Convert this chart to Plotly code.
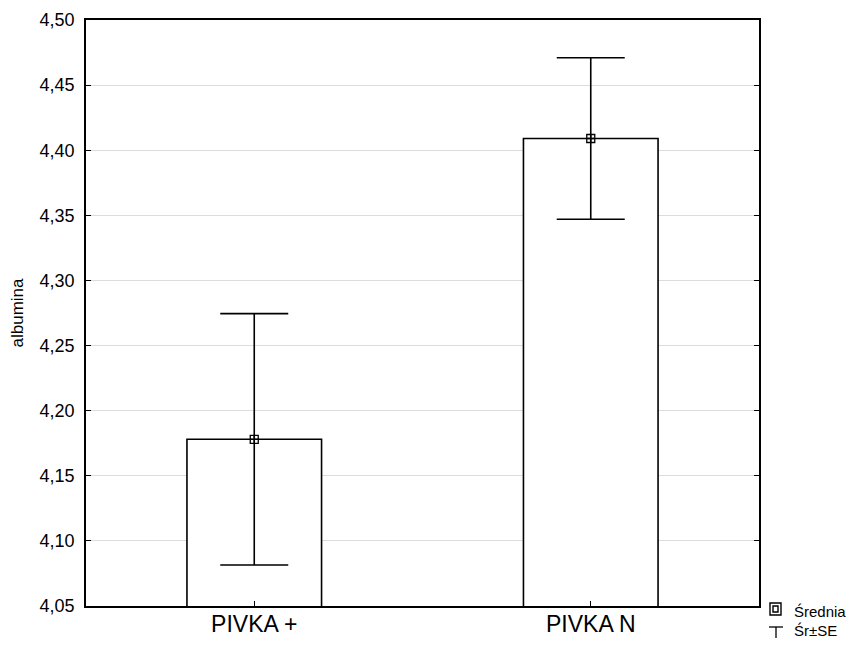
import plotly.graph_objects as go

categories = ["PIVKA +", "PIVKA N"]
means = [4.178, 4.409]
se = [0.0965, 0.062]
y_ticks = [4.05, 4.10, 4.15, 4.20, 4.25, 4.30, 4.35, 4.40, 4.45, 4.50]

OFF = 8  # default page body margin
PW, PH = 859, 647
W, H = PW - 2 * OFF, PH - 2 * OFF
L, R, T, B = 86, 759, 20, 606  # plot area in page pixels

x_pos = list(range(len(categories)))

fig = go.Figure()
fig.add_trace(go.Bar(
    x=x_pos, y=means, width=0.4,
    marker=dict(color="white", line=dict(color="black", width=1.6)),
    showlegend=False, hoverinfo="skip",
))
fig.add_trace(go.Scatter(
    x=x_pos, y=means, mode="markers",
    marker=dict(symbol="square-cross-open", size=8, color="black", line=dict(width=1.3)),
    error_y=dict(type="data", array=se, visible=True, color="black", thickness=1.6, width=34),
    showlegend=False,
))

def px(x):
    return (x - L) / (R - L)

def py(y):
    return (B - y) / (B - T)

shapes = [
    dict(type="rect", xref="paper", yref="paper", x0=px(770), x1=px(781), y0=py(615), y1=py(603),
         line=dict(color="black", width=1.4)),
    dict(type="rect", xref="paper", yref="paper", x0=px(773), x1=px(778), y0=py(612), y1=py(606),
         line=dict(color="black", width=1.4)),
    dict(type="line", xref="paper", yref="paper", x0=px(769), x1=px(783), y0=py(627), y1=py(627),
         line=dict(color="black", width=1.3)),
    dict(type="line", xref="paper", yref="paper", x0=px(776), x1=px(776), y0=py(627), y1=py(638),
         line=dict(color="black", width=1.3)),
]
annotations = [
    dict(xref="paper", yref="paper", x=px(792), y=py(611), text="Średnia", showarrow=False,
         xanchor="left", yanchor="middle", font=dict(size=15, color="black")),
    dict(xref="paper", yref="paper", x=px(792), y=py(630), text="Śr±SE", showarrow=False,
         xanchor="left", yanchor="middle", font=dict(size=15, color="black")),
]

fig.update_layout(
    width=W, height=H,
    margin=dict(l=L - OFF, r=(PW - OFF) - R, t=T - OFF, b=(PH - OFF) - B, autoexpand=False),
    paper_bgcolor="white", plot_bgcolor="white",
    font=dict(family="Liberation Sans, Arial, sans-serif", color="black"),
    separators=",.",
    shapes=shapes, annotations=annotations,
    showlegend=False,
)
fig.update_xaxes(
    range=[-0.5, 1.5], tickmode="array", tickvals=x_pos, ticktext=categories,
    tickfont=dict(size=23), ticks="inside", ticklen=5, tickcolor="black",
    ticklabelstandoff=-3, automargin=False,
    showline=True, linecolor="black", linewidth=1.6, mirror=True,
    showgrid=False, zeroline=False,
)
fig.update_yaxes(
    range=[4.05, 4.50], tickmode="array", tickvals=y_ticks, tickformat=".2f",
    tickfont=dict(size=18), ticks="inside", ticklen=5, tickcolor="black",
    ticklabelstandoff=6, automargin=False,
    showline=True, linecolor="black", linewidth=1.6, mirror="ticks",
    showgrid=True, gridcolor="#dcdcdc", gridwidth=1, zeroline=False,
    title=dict(text="albumina", font=dict(size=17), standoff=14),
)

fig.write_html("out.html")
